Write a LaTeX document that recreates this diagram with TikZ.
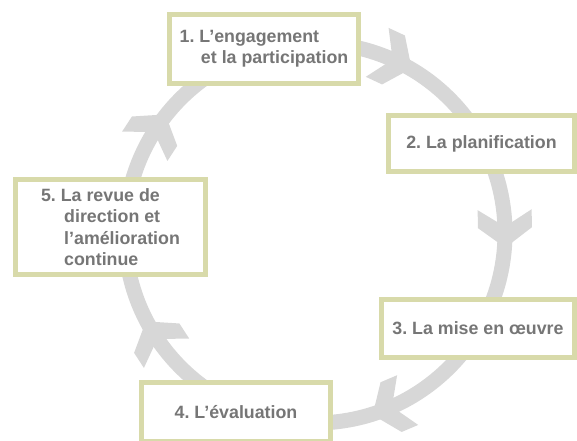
\documentclass[tikz,border=0pt]{standalone}
\usepackage{fontspec}
\setmainfont{Liberation Sans}
\usepackage{xcolor}
\definecolor{ringgray}{RGB}{215,215,215}
\definecolor{boxolive}{RGB}{216,218,170}
\definecolor{stagetext}{RGB}{118,118,118}
\frenchspacing

\begin{document}
\begin{tikzpicture}[x=1pt, y=1pt,
  stagebox/.style={draw=boxolive, line width=5pt, fill=white, rectangle, align=left, text=stagetext, inner sep=0pt, font=\bfseries\fontsize{17.8}{21.3}\selectfont}]
\useasboundingbox (0,0) rectangle (577,440);

% Ring and chevrons
\coordinate (O) at (315,207);
\draw[ringgray, line width=15pt] (O) circle (190);
\foreach \a in {65,1,-67,213,147}
  \fill[ringgray, shift={(O)}, rotate=\a] (190,-18) -- (217,2) -- (217,20) -- (190,3) -- (163,20) -- (163,2) -- cycle;

% Nodes
\node[stagebox, minimum width=189pt, minimum height=69pt] (engage) at (264,391) {1. L’engagement\\\hspace*{1.2em}et la participation};

\node[stagebox, minimum width=186pt, minimum height=56pt] (plan) at (481.5,296.5) {2. La planification};

\node[stagebox, minimum width=193pt, minimum height=58pt] (mise) at (478,111.5) {3. La mise en œuvre};

\node[stagebox, minimum width=189pt, minimum height=59pt] (evalu) at (236,28) {4. L’évaluation};

\node[stagebox, minimum width=190pt, minimum height=95pt] (revue) at (110.5,213) {5. La revue de\\\hspace*{1.3em}direction et\\\hspace*{1.3em}l’amélioration\\\hspace*{1.3em}continue};

\end{tikzpicture}
\end{document}
